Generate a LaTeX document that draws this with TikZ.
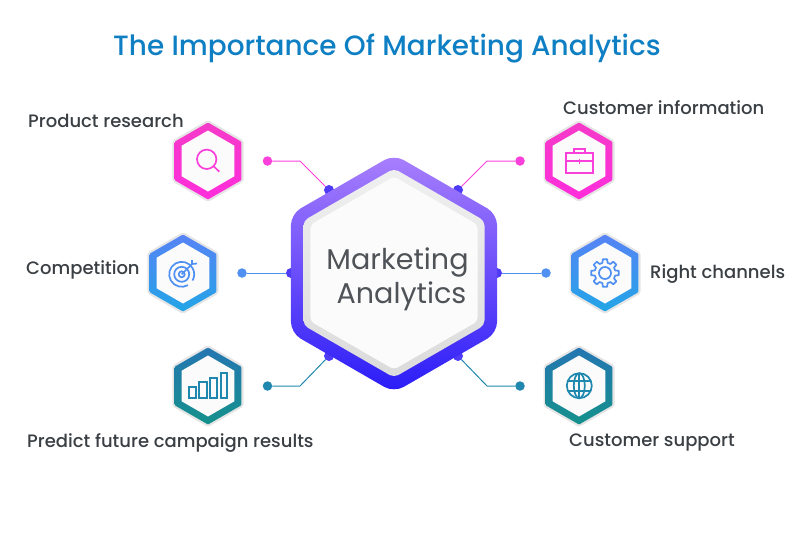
\documentclass[tikz,border=0pt]{standalone}
\usepackage{fontspec}
\setmainfont{Poppins Medium}
\newfontfamily\regfont{Poppins}
\usepackage{xcolor}
\usetikzlibrary{shapes.geometric}
\usetikzlibrary{calc}
\definecolor{pinktop}{HTML}{F53AC8}
\definecolor{pinkbot}{HTML}{FF2EDC}
\definecolor{bluetop}{HTML}{5783F6}
\definecolor{bluebot}{HTML}{22A5E6}
\definecolor{tealtop}{HTML}{2476B2}
\definecolor{tealbot}{HTML}{15918C}
\definecolor{pinkln}{HTML}{FA40DA}
\definecolor{blueln}{HTML}{4F90F2}
\definecolor{tealln}{HTML}{2088AE}
\definecolor{hubtop}{HTML}{A97FFC}
\definecolor{hubmid}{HTML}{6A4CF9}
\definecolor{hubbot}{HTML}{2A1CF8}
\definecolor{hubdot}{HTML}{4F3BF6}
\definecolor{titleblue}{HTML}{0F7FC4}
\definecolor{labelgrey}{HTML}{3A3F44}
\definecolor{wordgrey}{HTML}{4F5358}
\tikzstyle{hexbase}=[regular polygon,regular polygon sides=6,shape border rotate=30,inner sep=0pt,outer sep=0pt]
\tikzstyle{smallrim}=[hexbase,minimum size=82pt,rounded corners=2pt,fill=black!10]
\tikzstyle{smallring}=[hexbase,minimum size=77pt,rounded corners=1pt]
\tikzstyle{smallface}=[hexbase,minimum size=61pt,fill=black!1.5]
\tikzstyle{dotnode}=[circle,minimum size=9.5pt,inner sep=0pt,outer sep=0pt]
\tikzstyle{hubnode}=[dotnode,minimum size=10pt,fill=hubdot]
\tikzstyle{edge}=[draw,line width=1pt]
\tikzstyle{icon}=[draw,line width=1.7pt]
\tikzstyle{label}=[inner sep=0pt,anchor=base west,text=labelgrey,font=\fontsize{18}{21}\selectfont]
\begin{document}
\begin{tikzpicture}[x=1pt,y=-1pt]
 \useasboundingbox (0,0) rectangle (800,533);

 \node[inner sep=0pt,anchor=base west,text=titleblue,font=\fontsize{27.9}{33}\selectfont] (title) at (113,55) {The Importance Of Marketing Analytics};

 %hub dots and end dots
 \foreach \x/\y/\name in {329/190/hubA, 458/190/hubB, 291/273/hubC, 497/273/hubD, 329/356/hubE, 458/356/hubF}
    \node[hubnode] (\name) at (\x,\y) {};
 \foreach \x/\y/\name/\col in {267.5/161/dotA/pinkln, 520/161/dotB/pinkln, 242/273/dotC/blueln, 546/273/dotD/blueln, 267.5/386/dotE/tealln, 520/386/dotF/tealln}
    \node[dotnode,fill=\col] (\name) at (\x,\y) {};

 %connectors
 \coordinate (bendA) at (300,161);
 \coordinate (bendB) at (487,161);
 \coordinate (bendE) at (300,386);
 \coordinate (bendF) at (487,386);
 \foreach \source/\bend/\dest/\col in {dotA/bendA/hubA/pinkln, dotB/bendB/hubB/pinkln, dotE/bendE/hubE/tealln, dotF/bendF/hubF/tealln}
    \path[edge,draw=\col] (\source) -- (\bend) -- (\dest);
 \foreach \source/\dest/\col in {dotC/hubC/blueln, dotD/hubD/blueln}
    \path[edge,draw=\col] (\source) -- (\dest);

 %centre
 \node[hexbase,minimum size=238pt,rounded corners=11pt,top color=hubtop,middle color=hubmid,bottom color=hubbot] (hub) at (394,273.5) {};
 \node[hexbase,minimum size=209pt,rounded corners=5pt,top color=black!6,bottom color=black!14] (hubrim) at (394,273) {};
 \node[hexbase,minimum size=193pt,rounded corners=4pt,fill=black!1.5] (hubface) at (394,273) {};
 \node[inner sep=0pt,anchor=base,text=wordgrey,font=\regfont\fontsize{28.6}{34}\selectfont] (word1) at (397.5,269) {Marketing};
 \node[inner sep=0pt,anchor=base,text=wordgrey,font=\regfont\fontsize{28.6}{34}\selectfont] (word2) at (401.5,303) {Analytics};

 %small hexagons
 \foreach \x/\y/\name/\topc/\botc in {208/161/prodhex/pinktop/pinkbot, 579/161/custhex/pinktop/pinkbot, 183/273/comphex/bluetop/bluebot, 605/273/chanhex/bluetop/bluebot, 208/386/predhex/tealtop/tealbot, 579/386/supphex/tealtop/tealbot}
 {
    \node[smallrim] (\name rim) at (\x,\y) {};
    \node[smallring,top color=\topc,bottom color=\botc] (\name) at (\x,\y) {};
    \node[smallface] (\name face) at (\x,\y) {};
 }

 %labels
 \foreach \x/\y/\name/\txt in {28/127/lab1/Product research, 563/114/lab2/Customer information, 26/274/lab3/Competition, 650/278/lab4/Right channels, 27/447/lab5/Predict future campaign results, 569/446/lab6/Customer support}
    \node[label] (\name) at (\x,\y) {\txt};

 %magnifier
 \draw[icon,draw=pinkln] (206.7,159.3) circle (9.7);
 \draw[icon,draw=pinkln] (213.6,166.2) -- (219.3,171.7);

 %briefcase
 \draw[icon,draw=pinkln] (566,153.3) rectangle (593.3,173.3);
 \draw[icon,draw=pinkln] (574,153.3) -- (574,149) -- (585,149) -- (585,153.3);
 \draw[icon,draw=pinkln] (566,161) -- (593.3,161);
 \draw[icon,draw=pinkln] (579.5,158.5) -- (579.5,163.5);

 %target
 \draw[icon,draw=blueln] (181.7,274.3) ++(60:12.5) arc (60:390:12.5);
 \draw[icon,draw=blueln] (181.7,274.3) circle (7.5);
 \draw[icon,draw=blueln] (181.7,274.3) circle (3);
 \draw[icon,draw=blueln] (181.7,274.3) -- (192,264);
 \draw[icon,draw=blueln] (192,264) -- (192,260);
 \draw[icon,draw=blueln] (192,264) -- (197,263.5);

 %gear
 \draw[icon,draw=blueln] (605,273) circle (6);
 \draw[icon,draw=blueln,line join=round] (605,273) ++(-14:10.5)
    \foreach \a in {0,45,...,315}
       { -- ($(605,273)+(\a-14:10.5)$) -- ($(605,273)+(\a-9:14)$) -- ($(605,273)+(\a+9:14)$) -- ($(605,273)+(\a+14:10.5)$) }
    -- cycle;

 %bars
 \foreach \xa/\xb/\ytop in {189.3/196/387.3, 199.3/206.7/381.7, 210/217.3/378.3, 220.7/227.3/373.3}
    \draw[icon,draw=tealln] (\xa,398.3) rectangle (\xb,\ytop);

 %globe
 \draw[icon,draw=tealln] (579.3,385.7) circle (12.5);
 \draw[icon,draw=tealln] (579.3,385.7) ellipse (5.5 and 12.5);
 \draw[icon,draw=tealln] (579.3,373.2) -- (579.3,398.2);
 \draw[icon,draw=tealln] (568.2,380.7) -- (590.4,380.7);
 \draw[icon,draw=tealln] (568.2,390.7) -- (590.4,390.7);
\end{tikzpicture}
\end{document}
